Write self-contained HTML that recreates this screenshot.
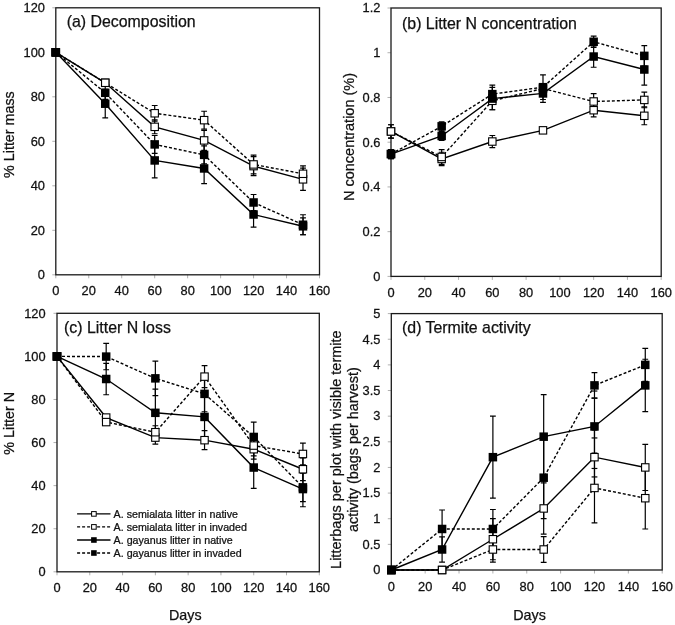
<!DOCTYPE html>
<html><head><meta charset="utf-8"><style>
html,body{margin:0;padding:0;background:#fff;}
svg{display:block;will-change:transform;}
text{font-family:"Liberation Sans", sans-serif;fill:#111;stroke:#111;stroke-width:0.25px;}
.tl{font-size:12px;}
.pt{font-size:15.9px;}
.at{font-size:14.3px;}
.lg{font-size:10px;}
</style></head><body>
<svg width="675" height="625" viewBox="0 0 675 625">
<rect width="675" height="625" fill="#fff"/>
<line x1="52.30" y1="274.80" x2="55.80" y2="274.80" stroke="#b0b0b0" stroke-width="1"/>
<text transform="translate(45.00 279.10) scale(1.070 1)" class="tl" text-anchor="end">0</text>
<line x1="52.30" y1="230.30" x2="55.80" y2="230.30" stroke="#b0b0b0" stroke-width="1"/>
<text transform="translate(45.00 234.60) scale(1.070 1)" class="tl" text-anchor="end">20</text>
<line x1="52.30" y1="185.80" x2="55.80" y2="185.80" stroke="#b0b0b0" stroke-width="1"/>
<text transform="translate(45.00 190.10) scale(1.070 1)" class="tl" text-anchor="end">40</text>
<line x1="52.30" y1="141.30" x2="55.80" y2="141.30" stroke="#b0b0b0" stroke-width="1"/>
<text transform="translate(45.00 145.60) scale(1.070 1)" class="tl" text-anchor="end">60</text>
<line x1="52.30" y1="96.80" x2="55.80" y2="96.80" stroke="#b0b0b0" stroke-width="1"/>
<text transform="translate(45.00 101.10) scale(1.070 1)" class="tl" text-anchor="end">80</text>
<line x1="52.30" y1="52.30" x2="55.80" y2="52.30" stroke="#b0b0b0" stroke-width="1"/>
<text transform="translate(45.00 56.60) scale(1.070 1)" class="tl" text-anchor="end">100</text>
<line x1="52.30" y1="7.80" x2="55.80" y2="7.80" stroke="#b0b0b0" stroke-width="1"/>
<text transform="translate(45.00 12.10) scale(1.070 1)" class="tl" text-anchor="end">120</text>
<line x1="55.80" y1="274.80" x2="55.80" y2="278.30" stroke="#b0b0b0" stroke-width="1"/>
<text transform="translate(55.80 294.60) scale(1.070 1)" class="tl" text-anchor="middle">0</text>
<line x1="88.76" y1="274.80" x2="88.76" y2="278.30" stroke="#b0b0b0" stroke-width="1"/>
<text transform="translate(88.76 294.60) scale(1.070 1)" class="tl" text-anchor="middle">20</text>
<line x1="121.72" y1="274.80" x2="121.72" y2="278.30" stroke="#b0b0b0" stroke-width="1"/>
<text transform="translate(121.72 294.60) scale(1.070 1)" class="tl" text-anchor="middle">40</text>
<line x1="154.69" y1="274.80" x2="154.69" y2="278.30" stroke="#b0b0b0" stroke-width="1"/>
<text transform="translate(154.69 294.60) scale(1.070 1)" class="tl" text-anchor="middle">60</text>
<line x1="187.65" y1="274.80" x2="187.65" y2="278.30" stroke="#b0b0b0" stroke-width="1"/>
<text transform="translate(187.65 294.60) scale(1.070 1)" class="tl" text-anchor="middle">80</text>
<line x1="220.61" y1="274.80" x2="220.61" y2="278.30" stroke="#b0b0b0" stroke-width="1"/>
<text transform="translate(220.61 294.60) scale(1.070 1)" class="tl" text-anchor="middle">100</text>
<line x1="253.57" y1="274.80" x2="253.57" y2="278.30" stroke="#b0b0b0" stroke-width="1"/>
<text transform="translate(253.57 294.60) scale(1.070 1)" class="tl" text-anchor="middle">120</text>
<line x1="286.54" y1="274.80" x2="286.54" y2="278.30" stroke="#b0b0b0" stroke-width="1"/>
<text transform="translate(286.54 294.60) scale(1.070 1)" class="tl" text-anchor="middle">140</text>
<line x1="319.50" y1="274.80" x2="319.50" y2="278.30" stroke="#b0b0b0" stroke-width="1"/>
<text transform="translate(319.50 294.60) scale(1.070 1)" class="tl" text-anchor="middle">160</text>
<rect x="55.80" y="7.80" width="263.70" height="267.00" fill="none" stroke="#1a1a1a" stroke-width="1.30"/>
<path d="M154.69 119.94V133.74M151.79 119.94H157.59M151.79 133.74H157.59" stroke="#000" stroke-width="1.2" fill="none"/>
<path d="M204.13 130.40V150.42M201.23 130.40H207.03M201.23 150.42H207.03" stroke="#000" stroke-width="1.2" fill="none"/>
<path d="M253.57 156.54V175.68M250.67 156.54H256.47M250.67 175.68H256.47" stroke="#000" stroke-width="1.2" fill="none"/>
<path d="M303.02 168.22V190.47M300.12 168.22H305.92M300.12 190.47H305.92" stroke="#000" stroke-width="1.2" fill="none"/>
<path d="M154.69 105.48V121.05M151.79 105.48H157.59M151.79 121.05H157.59" stroke="#000" stroke-width="1.2" fill="none"/>
<path d="M204.13 111.26V129.06M201.23 111.26H207.03M201.23 129.06H207.03" stroke="#000" stroke-width="1.2" fill="none"/>
<path d="M253.57 155.10V173.79M250.67 155.10H256.47M250.67 173.79H256.47" stroke="#000" stroke-width="1.2" fill="none"/>
<path d="M303.02 165.78V181.80M300.12 165.78H305.92M300.12 181.80H305.92" stroke="#000" stroke-width="1.2" fill="none"/>
<path d="M105.24 89.46V117.94M102.34 89.46H108.14M102.34 117.94H108.14" stroke="#000" stroke-width="1.2" fill="none"/>
<path d="M154.69 143.08V177.79M151.79 143.08H157.59M151.79 177.79H157.59" stroke="#000" stroke-width="1.2" fill="none"/>
<path d="M204.13 153.32V183.58M201.23 153.32H207.03M201.23 183.58H207.03" stroke="#000" stroke-width="1.2" fill="none"/>
<path d="M253.57 201.82V227.19M250.67 201.82H256.47M250.67 227.19H256.47" stroke="#000" stroke-width="1.2" fill="none"/>
<path d="M303.02 217.84V234.75M300.12 217.84H305.92M300.12 234.75H305.92" stroke="#000" stroke-width="1.2" fill="none"/>
<path d="M105.24 86.12V99.47M102.34 86.12H108.14M102.34 99.47H108.14" stroke="#000" stroke-width="1.2" fill="none"/>
<path d="M154.69 135.52V153.31M151.79 135.52H157.59M151.79 153.31H157.59" stroke="#000" stroke-width="1.2" fill="none"/>
<path d="M204.13 145.97V163.77M201.23 145.97H207.03M201.23 163.77H207.03" stroke="#000" stroke-width="1.2" fill="none"/>
<path d="M253.57 194.48V210.50M250.67 194.48H256.47M250.67 210.50H256.47" stroke="#000" stroke-width="1.2" fill="none"/>
<path d="M303.02 214.73V234.75M300.12 214.73H305.92M300.12 234.75H305.92" stroke="#000" stroke-width="1.2" fill="none"/>
<polyline points="55.80,52.30 105.24,82.78 154.69,126.84 204.13,140.41 253.57,166.11 303.02,179.35" fill="none" stroke="#000" stroke-width="1.40"/>
<polyline points="55.80,52.30 105.24,82.78 154.69,113.27 204.13,120.16 253.57,164.44 303.02,173.79" fill="none" stroke="#000" stroke-width="1.40" stroke-dasharray="3 2"/>
<polyline points="55.80,52.30 105.24,103.70 154.69,160.44 204.13,168.45 253.57,214.50 303.02,226.30" fill="none" stroke="#000" stroke-width="1.40"/>
<polyline points="55.80,52.30 105.24,92.80 154.69,144.41 204.13,154.87 253.57,202.49 303.02,224.74" fill="none" stroke="#000" stroke-width="1.40" stroke-dasharray="3 2"/>
<rect x="52.10" y="48.60" width="7.40" height="7.40" fill="#fff" stroke="#000" stroke-width="1.1"/>
<rect x="101.54" y="79.08" width="7.40" height="7.40" fill="#fff" stroke="#000" stroke-width="1.1"/>
<rect x="150.99" y="123.14" width="7.40" height="7.40" fill="#fff" stroke="#000" stroke-width="1.1"/>
<rect x="200.43" y="136.71" width="7.40" height="7.40" fill="#fff" stroke="#000" stroke-width="1.1"/>
<rect x="249.88" y="162.41" width="7.40" height="7.40" fill="#fff" stroke="#000" stroke-width="1.1"/>
<rect x="299.32" y="175.65" width="7.40" height="7.40" fill="#fff" stroke="#000" stroke-width="1.1"/>
<rect x="52.10" y="48.60" width="7.40" height="7.40" fill="#fff" stroke="#000" stroke-width="1.1"/>
<rect x="101.54" y="79.08" width="7.40" height="7.40" fill="#fff" stroke="#000" stroke-width="1.1"/>
<rect x="150.99" y="109.57" width="7.40" height="7.40" fill="#fff" stroke="#000" stroke-width="1.1"/>
<rect x="200.43" y="116.46" width="7.40" height="7.40" fill="#fff" stroke="#000" stroke-width="1.1"/>
<rect x="249.88" y="160.74" width="7.40" height="7.40" fill="#fff" stroke="#000" stroke-width="1.1"/>
<rect x="299.32" y="170.09" width="7.40" height="7.40" fill="#fff" stroke="#000" stroke-width="1.1"/>
<rect x="51.55" y="48.05" width="8.50" height="8.50" fill="#000"/>
<rect x="100.99" y="99.45" width="8.50" height="8.50" fill="#000"/>
<rect x="150.44" y="156.19" width="8.50" height="8.50" fill="#000"/>
<rect x="199.88" y="164.20" width="8.50" height="8.50" fill="#000"/>
<rect x="249.32" y="210.25" width="8.50" height="8.50" fill="#000"/>
<rect x="298.77" y="222.05" width="8.50" height="8.50" fill="#000"/>
<rect x="51.55" y="48.05" width="8.50" height="8.50" fill="#000"/>
<rect x="100.99" y="88.55" width="8.50" height="8.50" fill="#000"/>
<rect x="150.44" y="140.16" width="8.50" height="8.50" fill="#000"/>
<rect x="199.88" y="150.62" width="8.50" height="8.50" fill="#000"/>
<rect x="249.32" y="198.24" width="8.50" height="8.50" fill="#000"/>
<rect x="298.77" y="220.49" width="8.50" height="8.50" fill="#000"/>
<text x="66.70" y="26.60" class="pt">(a) Decomposition</text>
<text class="at" style="font-size:14.30px" text-anchor="middle" transform="translate(14.20 134.60) rotate(-90)">% Litter mass</text>
<line x1="387.50" y1="276.40" x2="391.00" y2="276.40" stroke="#b0b0b0" stroke-width="1"/>
<text transform="translate(380.40 280.70) scale(1.070 1)" class="tl" text-anchor="end">0</text>
<line x1="387.50" y1="231.67" x2="391.00" y2="231.67" stroke="#b0b0b0" stroke-width="1"/>
<text transform="translate(380.40 235.97) scale(1.070 1)" class="tl" text-anchor="end">0.2</text>
<line x1="387.50" y1="186.93" x2="391.00" y2="186.93" stroke="#b0b0b0" stroke-width="1"/>
<text transform="translate(380.40 191.23) scale(1.070 1)" class="tl" text-anchor="end">0.4</text>
<line x1="387.50" y1="142.20" x2="391.00" y2="142.20" stroke="#b0b0b0" stroke-width="1"/>
<text transform="translate(380.40 146.50) scale(1.070 1)" class="tl" text-anchor="end">0.6</text>
<line x1="387.50" y1="97.47" x2="391.00" y2="97.47" stroke="#b0b0b0" stroke-width="1"/>
<text transform="translate(380.40 101.77) scale(1.070 1)" class="tl" text-anchor="end">0.8</text>
<line x1="387.50" y1="52.73" x2="391.00" y2="52.73" stroke="#b0b0b0" stroke-width="1"/>
<text transform="translate(380.40 57.03) scale(1.070 1)" class="tl" text-anchor="end">1</text>
<line x1="387.50" y1="8.00" x2="391.00" y2="8.00" stroke="#b0b0b0" stroke-width="1"/>
<text transform="translate(380.40 12.30) scale(1.070 1)" class="tl" text-anchor="end">1.2</text>
<line x1="391.00" y1="276.40" x2="391.00" y2="279.90" stroke="#b0b0b0" stroke-width="1"/>
<text transform="translate(391.00 296.80) scale(1.070 1)" class="tl" text-anchor="middle">0</text>
<line x1="424.77" y1="276.40" x2="424.77" y2="279.90" stroke="#b0b0b0" stroke-width="1"/>
<text transform="translate(424.77 296.80) scale(1.070 1)" class="tl" text-anchor="middle">20</text>
<line x1="458.55" y1="276.40" x2="458.55" y2="279.90" stroke="#b0b0b0" stroke-width="1"/>
<text transform="translate(458.55 296.80) scale(1.070 1)" class="tl" text-anchor="middle">40</text>
<line x1="492.33" y1="276.40" x2="492.33" y2="279.90" stroke="#b0b0b0" stroke-width="1"/>
<text transform="translate(492.33 296.80) scale(1.070 1)" class="tl" text-anchor="middle">60</text>
<line x1="526.10" y1="276.40" x2="526.10" y2="279.90" stroke="#b0b0b0" stroke-width="1"/>
<text transform="translate(526.10 296.80) scale(1.070 1)" class="tl" text-anchor="middle">80</text>
<line x1="559.88" y1="276.40" x2="559.88" y2="279.90" stroke="#b0b0b0" stroke-width="1"/>
<text transform="translate(559.88 296.80) scale(1.070 1)" class="tl" text-anchor="middle">100</text>
<line x1="593.65" y1="276.40" x2="593.65" y2="279.90" stroke="#b0b0b0" stroke-width="1"/>
<text transform="translate(593.65 296.80) scale(1.070 1)" class="tl" text-anchor="middle">120</text>
<line x1="627.43" y1="276.40" x2="627.43" y2="279.90" stroke="#b0b0b0" stroke-width="1"/>
<text transform="translate(627.43 296.80) scale(1.070 1)" class="tl" text-anchor="middle">140</text>
<line x1="661.20" y1="276.40" x2="661.20" y2="279.90" stroke="#b0b0b0" stroke-width="1"/>
<text transform="translate(661.20 296.80) scale(1.070 1)" class="tl" text-anchor="middle">160</text>
<rect x="391.00" y="8.00" width="270.20" height="268.40" fill="none" stroke="#1a1a1a" stroke-width="1.30"/>
<path d="M391.00 124.75V138.17M388.10 124.75H393.90M388.10 138.17H393.90" stroke="#000" stroke-width="1.2" fill="none"/>
<path d="M441.66 152.26V165.69M438.76 152.26H444.56M438.76 165.69H444.56" stroke="#000" stroke-width="1.2" fill="none"/>
<path d="M492.33 135.49V147.57M489.43 135.49H495.23M489.43 147.57H495.23" stroke="#000" stroke-width="1.2" fill="none"/>
<path d="M542.99 128.11V132.58M540.09 128.11H545.89M540.09 132.58H545.89" stroke="#000" stroke-width="1.2" fill="none"/>
<path d="M593.65 103.51V116.93M590.75 103.51H596.55M590.75 116.93H596.55" stroke="#000" stroke-width="1.2" fill="none"/>
<path d="M644.31 106.86V124.75M641.41 106.86H647.21M641.41 124.75H647.21" stroke="#000" stroke-width="1.2" fill="none"/>
<path d="M391.00 124.75V138.17M388.10 124.75H393.90M388.10 138.17H393.90" stroke="#000" stroke-width="1.2" fill="none"/>
<path d="M441.66 149.58V164.34M438.76 149.58H444.56M438.76 164.34H444.56" stroke="#000" stroke-width="1.2" fill="none"/>
<path d="M492.33 91.87V109.77M489.43 91.87H495.23M489.43 109.77H495.23" stroke="#000" stroke-width="1.2" fill="none"/>
<path d="M542.99 84.05V92.99M540.09 84.05H545.89M540.09 92.99H545.89" stroke="#000" stroke-width="1.2" fill="none"/>
<path d="M593.65 93.66V109.32M590.75 93.66H596.55M590.75 109.32H596.55" stroke="#000" stroke-width="1.2" fill="none"/>
<path d="M644.31 92.10V107.76M641.41 92.10H647.21M641.41 107.76H647.21" stroke="#000" stroke-width="1.2" fill="none"/>
<path d="M391.00 149.58V158.53M388.10 149.58H393.90M388.10 158.53H393.90" stroke="#000" stroke-width="1.2" fill="none"/>
<path d="M441.66 131.46V140.41M438.76 131.46H444.56M438.76 140.41H444.56" stroke="#000" stroke-width="1.2" fill="none"/>
<path d="M492.33 87.40V109.77M489.43 87.40H495.23M489.43 109.77H495.23" stroke="#000" stroke-width="1.2" fill="none"/>
<path d="M542.99 84.49V102.39M540.09 84.49H545.89M540.09 102.39H545.89" stroke="#000" stroke-width="1.2" fill="none"/>
<path d="M593.65 45.80V67.27M590.75 45.80H596.55M590.75 67.27H596.55" stroke="#000" stroke-width="1.2" fill="none"/>
<path d="M644.31 53.85V85.16M641.41 53.85H647.21M641.41 85.16H647.21" stroke="#000" stroke-width="1.2" fill="none"/>
<path d="M391.00 149.58V158.53M388.10 149.58H393.90M388.10 158.53H393.90" stroke="#000" stroke-width="1.2" fill="none"/>
<path d="M441.66 121.85V130.79M438.76 121.85H444.56M438.76 130.79H444.56" stroke="#000" stroke-width="1.2" fill="none"/>
<path d="M492.33 85.16V103.06M489.43 85.16H495.23M489.43 103.06H495.23" stroke="#000" stroke-width="1.2" fill="none"/>
<path d="M542.99 74.88V99.48M540.09 74.88H545.89M540.09 99.48H545.89" stroke="#000" stroke-width="1.2" fill="none"/>
<path d="M593.65 36.18V47.37M590.75 36.18H596.55M590.75 47.37H596.55" stroke="#000" stroke-width="1.2" fill="none"/>
<path d="M644.31 45.58V66.15M641.41 45.58H647.21M641.41 66.15H647.21" stroke="#000" stroke-width="1.2" fill="none"/>
<polyline points="391.00,131.46 441.66,158.97 492.33,141.53 542.99,130.35 593.65,110.22 644.31,115.81" fill="none" stroke="#000" stroke-width="1.40"/>
<polyline points="391.00,131.46 441.66,156.96 492.33,100.82 542.99,88.52 593.65,101.49 644.31,99.93" fill="none" stroke="#000" stroke-width="1.40" stroke-dasharray="3 2"/>
<polyline points="391.00,154.05 441.66,135.94 492.33,98.58 542.99,93.44 593.65,56.54 644.31,69.51" fill="none" stroke="#000" stroke-width="1.40"/>
<polyline points="391.00,154.05 441.66,126.32 492.33,94.11 542.99,87.18 593.65,41.77 644.31,55.86" fill="none" stroke="#000" stroke-width="1.40" stroke-dasharray="3 2"/>
<rect x="387.30" y="127.76" width="7.40" height="7.40" fill="#fff" stroke="#000" stroke-width="1.1"/>
<rect x="437.96" y="155.27" width="7.40" height="7.40" fill="#fff" stroke="#000" stroke-width="1.1"/>
<rect x="488.63" y="137.83" width="7.40" height="7.40" fill="#fff" stroke="#000" stroke-width="1.1"/>
<rect x="539.29" y="126.65" width="7.40" height="7.40" fill="#fff" stroke="#000" stroke-width="1.1"/>
<rect x="589.95" y="106.52" width="7.40" height="7.40" fill="#fff" stroke="#000" stroke-width="1.1"/>
<rect x="640.61" y="112.11" width="7.40" height="7.40" fill="#fff" stroke="#000" stroke-width="1.1"/>
<rect x="387.30" y="127.76" width="7.40" height="7.40" fill="#fff" stroke="#000" stroke-width="1.1"/>
<rect x="437.96" y="153.26" width="7.40" height="7.40" fill="#fff" stroke="#000" stroke-width="1.1"/>
<rect x="488.63" y="97.12" width="7.40" height="7.40" fill="#fff" stroke="#000" stroke-width="1.1"/>
<rect x="539.29" y="84.82" width="7.40" height="7.40" fill="#fff" stroke="#000" stroke-width="1.1"/>
<rect x="589.95" y="97.79" width="7.40" height="7.40" fill="#fff" stroke="#000" stroke-width="1.1"/>
<rect x="640.61" y="96.23" width="7.40" height="7.40" fill="#fff" stroke="#000" stroke-width="1.1"/>
<rect x="386.75" y="149.80" width="8.50" height="8.50" fill="#000"/>
<rect x="437.41" y="131.69" width="8.50" height="8.50" fill="#000"/>
<rect x="488.08" y="94.33" width="8.50" height="8.50" fill="#000"/>
<rect x="538.74" y="89.19" width="8.50" height="8.50" fill="#000"/>
<rect x="589.40" y="52.29" width="8.50" height="8.50" fill="#000"/>
<rect x="640.06" y="65.26" width="8.50" height="8.50" fill="#000"/>
<rect x="386.75" y="149.80" width="8.50" height="8.50" fill="#000"/>
<rect x="437.41" y="122.07" width="8.50" height="8.50" fill="#000"/>
<rect x="488.08" y="89.86" width="8.50" height="8.50" fill="#000"/>
<rect x="538.74" y="82.93" width="8.50" height="8.50" fill="#000"/>
<rect x="589.40" y="37.52" width="8.50" height="8.50" fill="#000"/>
<rect x="640.06" y="51.61" width="8.50" height="8.50" fill="#000"/>
<text x="402.00" y="28.50" class="pt">(b) Litter N concentration</text>
<text class="at" style="font-size:14.50px" text-anchor="middle" transform="translate(354.20 137.00) rotate(-90)">N concentration (%)</text>
<line x1="53.50" y1="571.80" x2="57.00" y2="571.80" stroke="#b0b0b0" stroke-width="1"/>
<text transform="translate(45.60 576.10) scale(1.070 1)" class="tl" text-anchor="end">0</text>
<line x1="53.50" y1="528.72" x2="57.00" y2="528.72" stroke="#b0b0b0" stroke-width="1"/>
<text transform="translate(45.60 533.02) scale(1.070 1)" class="tl" text-anchor="end">20</text>
<line x1="53.50" y1="485.63" x2="57.00" y2="485.63" stroke="#b0b0b0" stroke-width="1"/>
<text transform="translate(45.60 489.93) scale(1.070 1)" class="tl" text-anchor="end">40</text>
<line x1="53.50" y1="442.55" x2="57.00" y2="442.55" stroke="#b0b0b0" stroke-width="1"/>
<text transform="translate(45.60 446.85) scale(1.070 1)" class="tl" text-anchor="end">60</text>
<line x1="53.50" y1="399.47" x2="57.00" y2="399.47" stroke="#b0b0b0" stroke-width="1"/>
<text transform="translate(45.60 403.77) scale(1.070 1)" class="tl" text-anchor="end">80</text>
<line x1="53.50" y1="356.38" x2="57.00" y2="356.38" stroke="#b0b0b0" stroke-width="1"/>
<text transform="translate(45.60 360.68) scale(1.070 1)" class="tl" text-anchor="end">100</text>
<line x1="53.50" y1="313.30" x2="57.00" y2="313.30" stroke="#b0b0b0" stroke-width="1"/>
<text transform="translate(45.60 317.60) scale(1.070 1)" class="tl" text-anchor="end">120</text>
<line x1="57.00" y1="571.80" x2="57.00" y2="575.30" stroke="#b0b0b0" stroke-width="1"/>
<text transform="translate(57.00 592.00) scale(1.070 1)" class="tl" text-anchor="middle">0</text>
<line x1="89.79" y1="571.80" x2="89.79" y2="575.30" stroke="#b0b0b0" stroke-width="1"/>
<text transform="translate(89.79 592.00) scale(1.070 1)" class="tl" text-anchor="middle">20</text>
<line x1="122.58" y1="571.80" x2="122.58" y2="575.30" stroke="#b0b0b0" stroke-width="1"/>
<text transform="translate(122.58 592.00) scale(1.070 1)" class="tl" text-anchor="middle">40</text>
<line x1="155.36" y1="571.80" x2="155.36" y2="575.30" stroke="#b0b0b0" stroke-width="1"/>
<text transform="translate(155.36 592.00) scale(1.070 1)" class="tl" text-anchor="middle">60</text>
<line x1="188.15" y1="571.80" x2="188.15" y2="575.30" stroke="#b0b0b0" stroke-width="1"/>
<text transform="translate(188.15 592.00) scale(1.070 1)" class="tl" text-anchor="middle">80</text>
<line x1="220.94" y1="571.80" x2="220.94" y2="575.30" stroke="#b0b0b0" stroke-width="1"/>
<text transform="translate(220.94 592.00) scale(1.070 1)" class="tl" text-anchor="middle">100</text>
<line x1="253.72" y1="571.80" x2="253.72" y2="575.30" stroke="#b0b0b0" stroke-width="1"/>
<text transform="translate(253.72 592.00) scale(1.070 1)" class="tl" text-anchor="middle">120</text>
<line x1="286.51" y1="571.80" x2="286.51" y2="575.30" stroke="#b0b0b0" stroke-width="1"/>
<text transform="translate(286.51 592.00) scale(1.070 1)" class="tl" text-anchor="middle">140</text>
<line x1="319.30" y1="571.80" x2="319.30" y2="575.30" stroke="#b0b0b0" stroke-width="1"/>
<text transform="translate(319.30 592.00) scale(1.070 1)" class="tl" text-anchor="middle">160</text>
<rect x="57.00" y="313.30" width="262.30" height="258.50" fill="none" stroke="#1a1a1a" stroke-width="1.30"/>
<path d="M155.36 431.13V444.06M152.46 431.13H158.26M152.46 444.06H158.26" stroke="#000" stroke-width="1.2" fill="none"/>
<path d="M204.54 430.70V449.66M201.64 430.70H207.44M201.64 449.66H207.44" stroke="#000" stroke-width="1.2" fill="none"/>
<path d="M253.72 439.32V459.14M250.82 439.32H256.62M250.82 459.14H256.62" stroke="#000" stroke-width="1.2" fill="none"/>
<path d="M302.91 457.84V480.68M300.01 457.84H305.81M300.01 480.68H305.81" stroke="#000" stroke-width="1.2" fill="none"/>
<path d="M155.36 425.75V438.67M152.46 425.75H158.26M152.46 438.67H158.26" stroke="#000" stroke-width="1.2" fill="none"/>
<path d="M204.54 365.65V387.62M201.64 365.65H207.44M201.64 387.62H207.44" stroke="#000" stroke-width="1.2" fill="none"/>
<path d="M253.72 435.23V455.91M250.82 435.23H256.62M250.82 455.91H256.62" stroke="#000" stroke-width="1.2" fill="none"/>
<path d="M302.91 443.20V464.74M300.01 443.20H305.81M300.01 464.74H305.81" stroke="#000" stroke-width="1.2" fill="none"/>
<path d="M106.18 363.28V394.73M103.28 363.28H109.08M103.28 394.73H109.08" stroke="#000" stroke-width="1.2" fill="none"/>
<path d="M155.36 389.13V436.52M152.46 389.13H158.26M152.46 436.52H158.26" stroke="#000" stroke-width="1.2" fill="none"/>
<path d="M204.54 395.37V438.46M201.64 395.37H207.44M201.64 438.46H207.44" stroke="#000" stroke-width="1.2" fill="none"/>
<path d="M253.72 446.64V488.43M250.82 446.64H256.62M250.82 488.43H256.62" stroke="#000" stroke-width="1.2" fill="none"/>
<path d="M302.91 471.42V506.74M300.01 471.42H305.81M300.01 506.74H305.81" stroke="#000" stroke-width="1.2" fill="none"/>
<path d="M106.18 343.46V369.74M103.28 343.46H109.08M103.28 369.74H109.08" stroke="#000" stroke-width="1.2" fill="none"/>
<path d="M155.36 361.12V395.59M152.46 361.12H158.26M152.46 395.59H158.26" stroke="#000" stroke-width="1.2" fill="none"/>
<path d="M204.54 375.99V411.75M201.64 375.99H207.44M201.64 411.75H207.44" stroke="#000" stroke-width="1.2" fill="none"/>
<path d="M253.72 422.09V451.81M250.82 422.09H256.62M250.82 451.81H256.62" stroke="#000" stroke-width="1.2" fill="none"/>
<path d="M302.91 473.14V501.57M300.01 473.14H305.81M300.01 501.57H305.81" stroke="#000" stroke-width="1.2" fill="none"/>
<polyline points="57.00,356.38 106.18,417.56 155.36,437.60 204.54,440.18 253.72,449.23 302.91,469.26" fill="none" stroke="#000" stroke-width="1.40"/>
<polyline points="57.00,356.38 106.18,422.09 155.36,432.21 204.54,376.63 253.72,445.57 302.91,453.97" fill="none" stroke="#000" stroke-width="1.40" stroke-dasharray="3 2"/>
<polyline points="57.00,356.38 106.18,379.00 155.36,412.82 204.54,416.92 253.72,467.54 302.91,489.08" fill="none" stroke="#000" stroke-width="1.40"/>
<polyline points="57.00,356.38 106.18,356.60 155.36,378.36 204.54,393.87 253.72,436.95 302.91,487.36" fill="none" stroke="#000" stroke-width="1.40" stroke-dasharray="3 2"/>
<rect x="53.30" y="352.68" width="7.40" height="7.40" fill="#fff" stroke="#000" stroke-width="1.1"/>
<rect x="102.48" y="413.86" width="7.40" height="7.40" fill="#fff" stroke="#000" stroke-width="1.1"/>
<rect x="151.66" y="433.90" width="7.40" height="7.40" fill="#fff" stroke="#000" stroke-width="1.1"/>
<rect x="200.84" y="436.48" width="7.40" height="7.40" fill="#fff" stroke="#000" stroke-width="1.1"/>
<rect x="250.03" y="445.53" width="7.40" height="7.40" fill="#fff" stroke="#000" stroke-width="1.1"/>
<rect x="299.21" y="465.56" width="7.40" height="7.40" fill="#fff" stroke="#000" stroke-width="1.1"/>
<rect x="53.30" y="352.68" width="7.40" height="7.40" fill="#fff" stroke="#000" stroke-width="1.1"/>
<rect x="102.48" y="418.39" width="7.40" height="7.40" fill="#fff" stroke="#000" stroke-width="1.1"/>
<rect x="151.66" y="428.51" width="7.40" height="7.40" fill="#fff" stroke="#000" stroke-width="1.1"/>
<rect x="200.84" y="372.93" width="7.40" height="7.40" fill="#fff" stroke="#000" stroke-width="1.1"/>
<rect x="250.03" y="441.87" width="7.40" height="7.40" fill="#fff" stroke="#000" stroke-width="1.1"/>
<rect x="299.21" y="450.27" width="7.40" height="7.40" fill="#fff" stroke="#000" stroke-width="1.1"/>
<rect x="52.75" y="352.13" width="8.50" height="8.50" fill="#000"/>
<rect x="101.93" y="374.75" width="8.50" height="8.50" fill="#000"/>
<rect x="151.11" y="408.57" width="8.50" height="8.50" fill="#000"/>
<rect x="200.29" y="412.67" width="8.50" height="8.50" fill="#000"/>
<rect x="249.47" y="463.29" width="8.50" height="8.50" fill="#000"/>
<rect x="298.66" y="484.83" width="8.50" height="8.50" fill="#000"/>
<rect x="52.75" y="352.13" width="8.50" height="8.50" fill="#000"/>
<rect x="101.93" y="352.35" width="8.50" height="8.50" fill="#000"/>
<rect x="151.11" y="374.11" width="8.50" height="8.50" fill="#000"/>
<rect x="200.29" y="389.62" width="8.50" height="8.50" fill="#000"/>
<rect x="249.47" y="432.70" width="8.50" height="8.50" fill="#000"/>
<rect x="298.66" y="483.11" width="8.50" height="8.50" fill="#000"/>
<text x="64.00" y="333.00" class="pt">(c) Litter N loss</text>
<text class="at" style="font-size:14.30px" text-anchor="middle" transform="translate(14.20 423.30) rotate(-90)">% Litter N</text>
<text class="at" text-anchor="middle" x="185.30" y="619.50">Days</text>
<line x1="387.80" y1="570.00" x2="391.30" y2="570.00" stroke="#b0b0b0" stroke-width="1"/>
<text transform="translate(380.40 574.30) scale(1.070 1)" class="tl" text-anchor="end">0</text>
<line x1="387.80" y1="544.36" x2="391.30" y2="544.36" stroke="#b0b0b0" stroke-width="1"/>
<text transform="translate(380.40 548.66) scale(1.070 1)" class="tl" text-anchor="end">0.5</text>
<line x1="387.80" y1="518.72" x2="391.30" y2="518.72" stroke="#b0b0b0" stroke-width="1"/>
<text transform="translate(380.40 523.02) scale(1.070 1)" class="tl" text-anchor="end">1</text>
<line x1="387.80" y1="493.08" x2="391.30" y2="493.08" stroke="#b0b0b0" stroke-width="1"/>
<text transform="translate(380.40 497.38) scale(1.070 1)" class="tl" text-anchor="end">1.5</text>
<line x1="387.80" y1="467.44" x2="391.30" y2="467.44" stroke="#b0b0b0" stroke-width="1"/>
<text transform="translate(380.40 471.74) scale(1.070 1)" class="tl" text-anchor="end">2</text>
<line x1="387.80" y1="441.80" x2="391.30" y2="441.80" stroke="#b0b0b0" stroke-width="1"/>
<text transform="translate(380.40 446.10) scale(1.070 1)" class="tl" text-anchor="end">2.5</text>
<line x1="387.80" y1="416.16" x2="391.30" y2="416.16" stroke="#b0b0b0" stroke-width="1"/>
<text transform="translate(380.40 420.46) scale(1.070 1)" class="tl" text-anchor="end">3</text>
<line x1="387.80" y1="390.52" x2="391.30" y2="390.52" stroke="#b0b0b0" stroke-width="1"/>
<text transform="translate(380.40 394.82) scale(1.070 1)" class="tl" text-anchor="end">3.5</text>
<line x1="387.80" y1="364.88" x2="391.30" y2="364.88" stroke="#b0b0b0" stroke-width="1"/>
<text transform="translate(380.40 369.18) scale(1.070 1)" class="tl" text-anchor="end">4</text>
<line x1="387.80" y1="339.24" x2="391.30" y2="339.24" stroke="#b0b0b0" stroke-width="1"/>
<text transform="translate(380.40 343.54) scale(1.070 1)" class="tl" text-anchor="end">4.5</text>
<line x1="387.80" y1="313.60" x2="391.30" y2="313.60" stroke="#b0b0b0" stroke-width="1"/>
<text transform="translate(380.40 317.90) scale(1.070 1)" class="tl" text-anchor="end">5</text>
<line x1="391.30" y1="570.00" x2="391.30" y2="573.50" stroke="#b0b0b0" stroke-width="1"/>
<text transform="translate(391.30 591.30) scale(1.070 1)" class="tl" text-anchor="middle">0</text>
<line x1="425.16" y1="570.00" x2="425.16" y2="573.50" stroke="#b0b0b0" stroke-width="1"/>
<text transform="translate(425.16 591.30) scale(1.070 1)" class="tl" text-anchor="middle">20</text>
<line x1="459.03" y1="570.00" x2="459.03" y2="573.50" stroke="#b0b0b0" stroke-width="1"/>
<text transform="translate(459.03 591.30) scale(1.070 1)" class="tl" text-anchor="middle">40</text>
<line x1="492.89" y1="570.00" x2="492.89" y2="573.50" stroke="#b0b0b0" stroke-width="1"/>
<text transform="translate(492.89 591.30) scale(1.070 1)" class="tl" text-anchor="middle">60</text>
<line x1="526.75" y1="570.00" x2="526.75" y2="573.50" stroke="#b0b0b0" stroke-width="1"/>
<text transform="translate(526.75 591.30) scale(1.070 1)" class="tl" text-anchor="middle">80</text>
<line x1="560.61" y1="570.00" x2="560.61" y2="573.50" stroke="#b0b0b0" stroke-width="1"/>
<text transform="translate(560.61 591.30) scale(1.070 1)" class="tl" text-anchor="middle">100</text>
<line x1="594.48" y1="570.00" x2="594.48" y2="573.50" stroke="#b0b0b0" stroke-width="1"/>
<text transform="translate(594.48 591.30) scale(1.070 1)" class="tl" text-anchor="middle">120</text>
<line x1="628.34" y1="570.00" x2="628.34" y2="573.50" stroke="#b0b0b0" stroke-width="1"/>
<text transform="translate(628.34 591.30) scale(1.070 1)" class="tl" text-anchor="middle">140</text>
<line x1="662.20" y1="570.00" x2="662.20" y2="573.50" stroke="#b0b0b0" stroke-width="1"/>
<text transform="translate(662.20 591.30) scale(1.070 1)" class="tl" text-anchor="middle">160</text>
<rect x="391.30" y="313.60" width="270.90" height="256.40" fill="none" stroke="#1a1a1a" stroke-width="1.30"/>
<path d="M492.89 518.72V559.74M489.99 518.72H495.79M489.99 559.74H495.79" stroke="#000" stroke-width="1.2" fill="none"/>
<path d="M543.68 482.82V534.10M540.78 482.82H546.58M540.78 534.10H546.58" stroke="#000" stroke-width="1.2" fill="none"/>
<path d="M594.48 428.98V485.39M591.58 428.98H597.38M591.58 485.39H597.38" stroke="#000" stroke-width="1.2" fill="none"/>
<path d="M645.27 444.36V490.52M642.37 444.36H648.17M642.37 490.52H648.17" stroke="#000" stroke-width="1.2" fill="none"/>
<path d="M492.89 536.92V562.05M489.99 536.92H495.79M489.99 562.05H495.79" stroke="#000" stroke-width="1.2" fill="none"/>
<path d="M543.68 536.67V562.31M540.78 536.67H546.58M540.78 562.31H546.58" stroke="#000" stroke-width="1.2" fill="none"/>
<path d="M594.48 453.08V522.82M591.58 453.08H597.38M591.58 522.82H597.38" stroke="#000" stroke-width="1.2" fill="none"/>
<path d="M645.27 467.44V528.98M642.37 467.44H648.17M642.37 528.98H648.17" stroke="#000" stroke-width="1.2" fill="none"/>
<path d="M442.09 536.92V562.05M439.19 536.92H444.99M439.19 562.05H444.99" stroke="#000" stroke-width="1.2" fill="none"/>
<path d="M492.89 416.16V498.21M489.99 416.16H495.79M489.99 498.21H495.79" stroke="#000" stroke-width="1.2" fill="none"/>
<path d="M543.68 394.62V478.72M540.78 394.62H546.58M540.78 478.72H546.58" stroke="#000" stroke-width="1.2" fill="none"/>
<path d="M594.48 398.21V454.62M591.58 398.21H597.38M591.58 454.62H597.38" stroke="#000" stroke-width="1.2" fill="none"/>
<path d="M645.27 359.24V411.54M642.37 359.24H648.17M642.37 411.54H648.17" stroke="#000" stroke-width="1.2" fill="none"/>
<path d="M442.09 510.00V547.95M439.19 510.00H444.99M439.19 547.95H444.99" stroke="#000" stroke-width="1.2" fill="none"/>
<path d="M492.89 509.49V548.46M489.99 509.49H495.79M489.99 548.46H495.79" stroke="#000" stroke-width="1.2" fill="none"/>
<path d="M543.68 436.67V518.72M540.78 436.67H546.58M540.78 518.72H546.58" stroke="#000" stroke-width="1.2" fill="none"/>
<path d="M594.48 372.57V398.21M591.58 372.57H597.38M591.58 398.21H597.38" stroke="#000" stroke-width="1.2" fill="none"/>
<path d="M645.27 348.47V381.29M642.37 348.47H648.17M642.37 381.29H648.17" stroke="#000" stroke-width="1.2" fill="none"/>
<path d="M591.58 391.03H597.38" stroke="#000" stroke-width="1.2" fill="none"/>
<path d="M591.58 430.01H597.38" stroke="#000" stroke-width="1.2" fill="none"/>
<path d="M591.58 437.95H597.38" stroke="#000" stroke-width="1.2" fill="none"/>
<path d="M591.58 468.47H597.38" stroke="#000" stroke-width="1.2" fill="none"/>
<path d="M591.58 476.93H597.38" stroke="#000" stroke-width="1.2" fill="none"/>
<polyline points="391.30,570.00 442.09,570.00 492.89,539.23 543.68,508.46 594.48,457.18 645.27,467.44" fill="none" stroke="#000" stroke-width="1.40"/>
<polyline points="391.30,570.00 442.09,570.00 492.89,549.49 543.68,549.49 594.48,487.95 645.27,498.21" fill="none" stroke="#000" stroke-width="1.40" stroke-dasharray="3 2"/>
<polyline points="391.30,570.00 442.09,549.49 492.89,457.18 543.68,436.67 594.48,426.42 645.27,385.39" fill="none" stroke="#000" stroke-width="1.40"/>
<polyline points="391.30,570.00 442.09,528.98 492.89,528.98 543.68,477.70 594.48,385.39 645.27,364.88" fill="none" stroke="#000" stroke-width="1.40" stroke-dasharray="3 2"/>
<rect x="387.60" y="566.30" width="7.40" height="7.40" fill="#fff" stroke="#000" stroke-width="1.1"/>
<rect x="438.39" y="566.30" width="7.40" height="7.40" fill="#fff" stroke="#000" stroke-width="1.1"/>
<rect x="489.19" y="535.53" width="7.40" height="7.40" fill="#fff" stroke="#000" stroke-width="1.1"/>
<rect x="539.98" y="504.76" width="7.40" height="7.40" fill="#fff" stroke="#000" stroke-width="1.1"/>
<rect x="590.77" y="453.48" width="7.40" height="7.40" fill="#fff" stroke="#000" stroke-width="1.1"/>
<rect x="641.57" y="463.74" width="7.40" height="7.40" fill="#fff" stroke="#000" stroke-width="1.1"/>
<rect x="387.60" y="566.30" width="7.40" height="7.40" fill="#fff" stroke="#000" stroke-width="1.1"/>
<rect x="438.39" y="566.30" width="7.40" height="7.40" fill="#fff" stroke="#000" stroke-width="1.1"/>
<rect x="489.19" y="545.79" width="7.40" height="7.40" fill="#fff" stroke="#000" stroke-width="1.1"/>
<rect x="539.98" y="545.79" width="7.40" height="7.40" fill="#fff" stroke="#000" stroke-width="1.1"/>
<rect x="590.77" y="484.25" width="7.40" height="7.40" fill="#fff" stroke="#000" stroke-width="1.1"/>
<rect x="641.57" y="494.51" width="7.40" height="7.40" fill="#fff" stroke="#000" stroke-width="1.1"/>
<rect x="387.05" y="565.75" width="8.50" height="8.50" fill="#000"/>
<rect x="437.84" y="545.24" width="8.50" height="8.50" fill="#000"/>
<rect x="488.64" y="452.93" width="8.50" height="8.50" fill="#000"/>
<rect x="539.43" y="432.42" width="8.50" height="8.50" fill="#000"/>
<rect x="590.23" y="422.17" width="8.50" height="8.50" fill="#000"/>
<rect x="641.02" y="381.14" width="8.50" height="8.50" fill="#000"/>
<rect x="387.05" y="565.75" width="8.50" height="8.50" fill="#000"/>
<rect x="437.84" y="524.73" width="8.50" height="8.50" fill="#000"/>
<rect x="488.64" y="524.73" width="8.50" height="8.50" fill="#000"/>
<rect x="539.43" y="473.45" width="8.50" height="8.50" fill="#000"/>
<rect x="590.23" y="381.14" width="8.50" height="8.50" fill="#000"/>
<rect x="641.02" y="360.63" width="8.50" height="8.50" fill="#000"/>
<text x="402.00" y="333.30" class="pt">(d) Termite activity</text>
<text class="at" style="font-size:14.50px" text-anchor="middle" transform="translate(341.20 449.65) rotate(-90)">Litterbags per plot with visible termite</text>
<text class="at" style="font-size:14.40px" text-anchor="middle" transform="translate(357.80 449.65) rotate(-90)">activity (bags per harvest)</text>
<text class="at" text-anchor="middle" x="529.60" y="619.80">Days</text>
<line x1="77.10" y1="513.90" x2="110.50" y2="513.90" stroke="#000" stroke-width="1.3"/>
<rect x="91.60" y="511.60" width="4.6" height="4.6" fill="#fff" stroke="#000" stroke-width="1"/>
<text transform="translate(113.60 517.50) scale(1.067 1)" class="lg">A. semialata litter in native</text>
<line x1="77.10" y1="526.90" x2="110.50" y2="526.90" stroke="#000" stroke-width="1.3" stroke-dasharray="3 2"/>
<rect x="91.60" y="524.60" width="4.6" height="4.6" fill="#fff" stroke="#000" stroke-width="1"/>
<text transform="translate(113.60 530.50) scale(1.067 1)" class="lg">A. semialata litter in invaded</text>
<line x1="77.10" y1="540.00" x2="110.50" y2="540.00" stroke="#000" stroke-width="1.3"/>
<rect x="91.10" y="537.20" width="5.6" height="5.6" fill="#000"/>
<text transform="translate(113.60 543.60) scale(1.067 1)" class="lg">A. gayanus litter in native</text>
<line x1="77.10" y1="553.00" x2="110.50" y2="553.00" stroke="#000" stroke-width="1.3" stroke-dasharray="3 2"/>
<rect x="91.10" y="550.20" width="5.6" height="5.6" fill="#000"/>
<text transform="translate(113.60 556.60) scale(1.067 1)" class="lg">A. gayanus litter in invaded</text>
</svg>
</body></html>
